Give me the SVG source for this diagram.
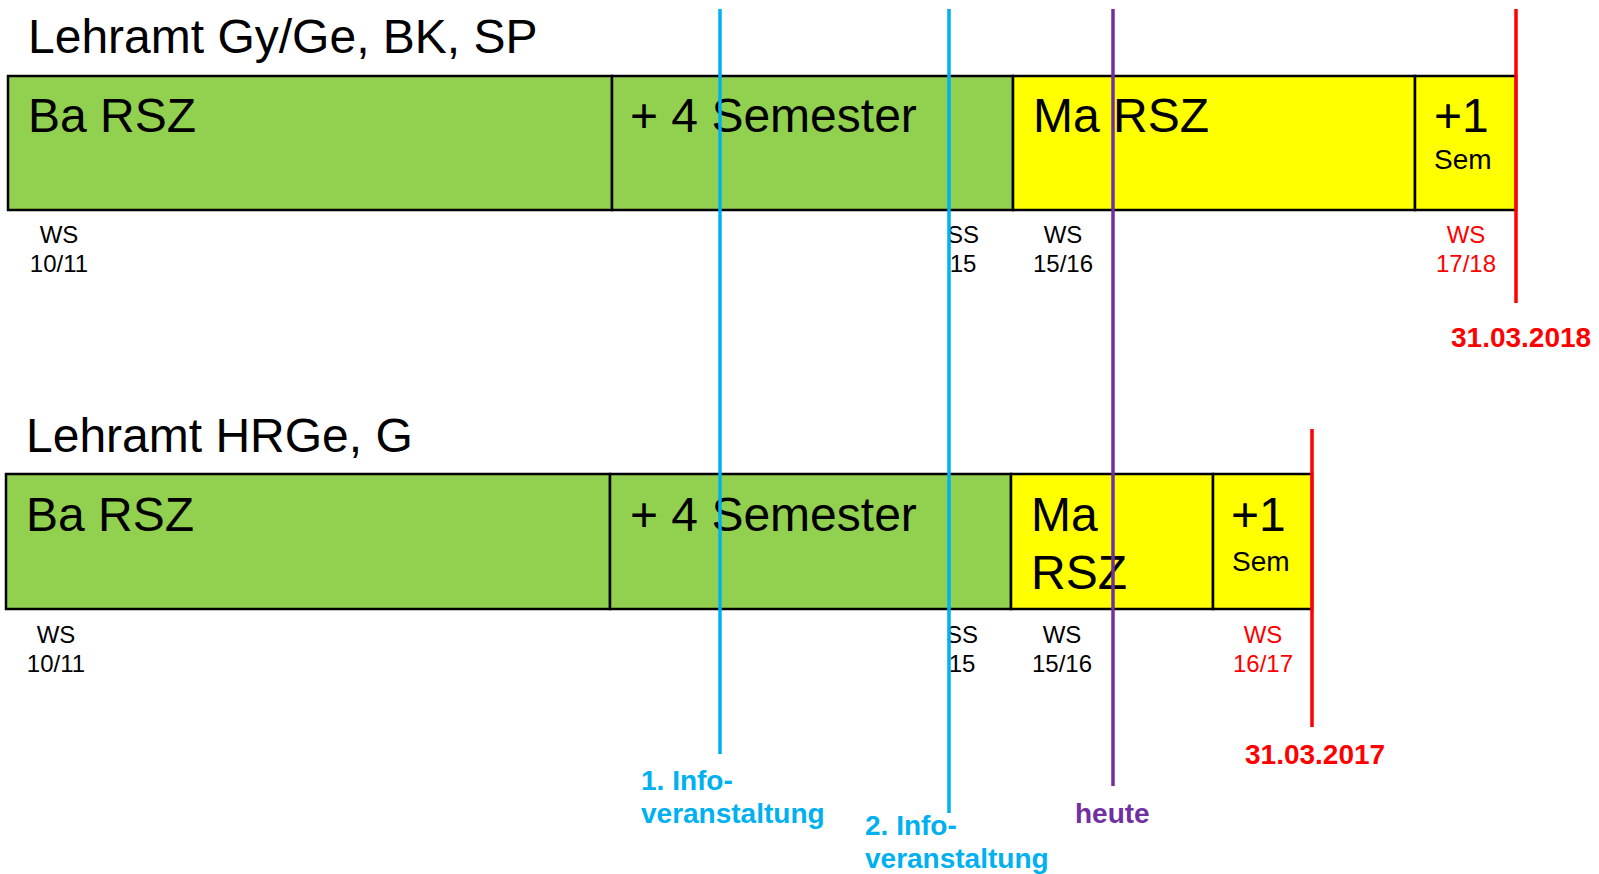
<svg xmlns="http://www.w3.org/2000/svg" width="1599" height="874" viewBox="0 0 1599 874">
<style>
text{font-family:"Liberation Sans",Arial,sans-serif}
.box{stroke:#000;stroke-width:2.5}
.g{fill:#92D050}.y{fill:#FFFF00}
.big{font-size:48px;fill:#000}
.sem{font-size:28px;fill:#000}
.lab{font-size:24px;fill:#000;text-anchor:middle}
.red{fill:#FF0000}
.bl{font-size:28px;font-weight:bold}
.ln{fill:none;stroke-width:3.5}
</style>
<rect width="1599" height="874" fill="#fff"/>
<g id="row1">
<text class="big" x="28" y="53">Lehramt Gy/Ge, BK, SP</text>
<g id="r1-ba"><rect class="box g" x="8" y="76" width="604" height="134"/><text class="big" x="28" y="132">Ba RSZ</text></g>
<g id="r1-plus4"><rect class="box g" x="612" y="76" width="401" height="134"/><text class="big" x="630" y="132">+ 4 Semester</text></g>
<g id="r1-ma"><rect class="box y" x="1013" y="76" width="402" height="134"/><text class="big" x="1033" y="132">Ma RSZ</text></g>
<g id="r1-plus1"><rect class="box y" x="1415" y="76" width="101" height="134"/><text class="big" x="1434" y="132">+1</text><text class="sem" x="1434" y="169">Sem</text></g>
<text class="lab" x="59" y="243">WS<tspan x="59" y="272">10/11</tspan></text>
<text class="lab" x="963" y="243">SS<tspan x="963" y="272">15</tspan></text>
<text class="lab" x="1063" y="243">WS<tspan x="1063" y="272">15/16</tspan></text>
<text class="lab red" x="1466" y="243">WS<tspan x="1466" y="272">17/18</tspan></text>
</g>
<g id="row2">
<text class="big" x="26" y="452">Lehramt HRGe, G</text>
<g id="r2-ba"><rect class="box g" x="6" y="474" width="604" height="135"/><text class="big" x="26" y="531">Ba RSZ</text></g>
<g id="r2-plus4"><rect class="box g" x="610" y="474" width="401" height="135"/><text class="big" x="630" y="531">+ 4 Semester</text></g>
<g id="r2-ma"><rect class="box y" x="1011" y="474" width="202" height="135"/><text class="big" x="1031" y="531">Ma</text><text class="big" x="1031" y="589">RSZ</text></g>
<g id="r2-plus1"><rect class="box y" x="1213" y="474" width="99" height="135"/><text class="big" x="1231" y="531">+1</text><text class="sem" x="1232" y="571">Sem</text></g>
<text class="lab" x="56" y="643">WS<tspan x="56" y="672">10/11</tspan></text>
<text class="lab" x="962" y="643">SS<tspan x="962" y="672">15</tspan></text>
<text class="lab" x="1062" y="643">WS<tspan x="1062" y="672">15/16</tspan></text>
<text class="lab red" x="1263" y="643">WS<tspan x="1263" y="672">16/17</tspan></text>
</g>
<g id="connectors">
<line class="ln" x1="720" y1="9" x2="720" y2="754" stroke="#00B0F0"/>
<line class="ln" x1="949" y1="9" x2="949" y2="813" stroke="#00B0F0"/>
<line class="ln" x1="1113" y1="9" x2="1113" y2="786" stroke="#7030A0"/>
<line class="ln" x1="1516" y1="9" x2="1516" y2="303" stroke="#FF0000"/>
<line class="ln" x1="1312" y1="429" x2="1312" y2="727" stroke="#FF0000"/>
</g>
<g id="markers">
<text class="bl" x="641" y="790" fill="#00B0F0">1. Info-<tspan x="641" y="823">veranstaltung</tspan></text>
<text class="bl" x="865" y="835" fill="#00B0F0">2. Info-<tspan x="865" y="868">veranstaltung</tspan></text>
<text class="bl" x="1075" y="823" fill="#7030A0" font-size="29">heute</text>
<text class="bl" x="1451" y="347" fill="#FF0000">31.03.2018</text>
<text class="bl" x="1245" y="764" fill="#FF0000">31.03.2017</text>
</g>
</svg>
